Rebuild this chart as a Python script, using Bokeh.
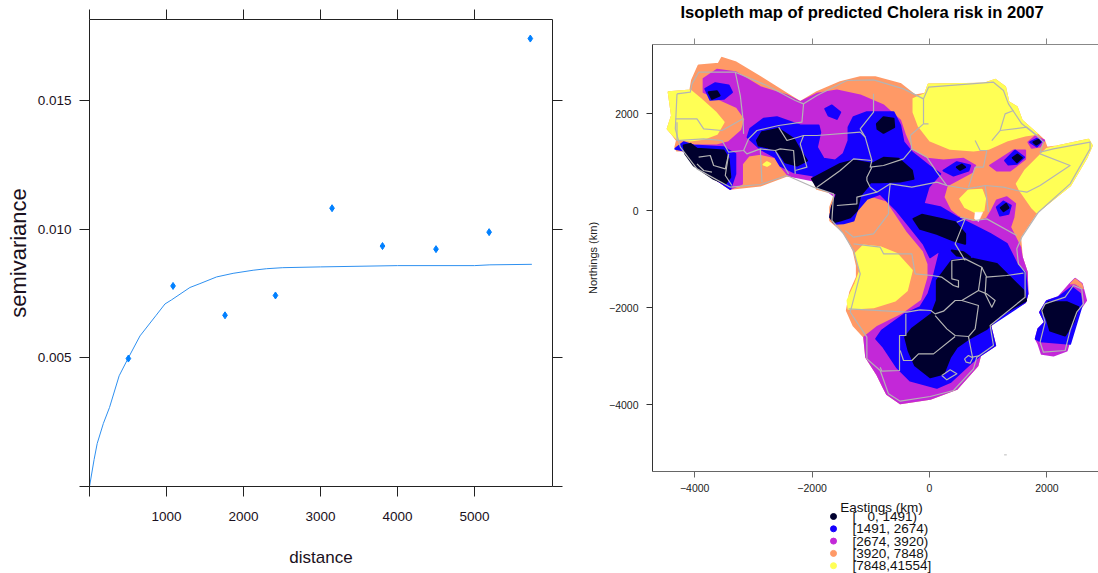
from bokeh.embed import file_html
from bokeh.resources import INLINE
from bokeh.plotting import figure
from bokeh.layouts import row, column
from bokeh.core.properties import value
from bokeh.models import Range1d, LinearAxis, FixedTicker

# ---------- variogram ----------
lag_distance = [505, 1085, 1760, 2415, 3150, 3805, 4500, 5190, 5725]
semivariance = [0.00497, 0.00779, 0.00665, 0.00742, 0.01081, 0.00934, 0.00922, 0.00988, 0.0174]
model_distance = [0, 60, 100, 180, 260, 385, 505, 656, 860, 980, 1066, 1304, 1434, 1650, 1865, 2125, 2300, 2510, 3000, 4000, 5000, 5200, 5745]
model_gamma = [0, 0.00105, 0.00167, 0.00245, 0.00307, 0.0043, 0.0050, 0.00585, 0.00663, 0.00709, 0.00725, 0.00773, 0.00788, 0.00814, 0.00828, 0.0084, 0.00846, 0.0085, 0.00853, 0.00858, 0.00858, 0.00861, 0.00863]
x_ticks = [0, 1000, 2000, 3000, 4000, 5000]
y_ticks = [0, 0.005, 0.010, 0.015]
y_tick_text = {0: "", 0.005: "0.005", 0.010: "0.010", 0.015: "0.015"}

# ---------- isopleth map: outlines digitised on a map grid ----------
E_PER_GRID, E_ORIGIN = 5.675, 868
N_PER_GRID, N_ORIGIN = 6.873, 510
def km(poly):
    return [(a - E_ORIGIN) * E_PER_GRID for a, b in poly], [(N_ORIGIN - b) * N_PER_GRID for a, b in poly]

legend_labels = ["[\u00a0\u00a0\u00a00, 1491)", "[1491, 2674)", "[2674, 3920)", "[3920, 7848)", "[7848,41554]"]
legend_colors = ["#00002E", "#1500FF", "#C328D8", "#FF9966", "#FFFF55"]

mainland = [(85,155),(150,150),(155,120),(175,75),(235,70),(245,52),(285,65),(360,110),(440,160),(480,185),(530,155),(600,125),(660,110),(705,110),(780,130),(825,165),(855,160),(865,132),(1030,130),(1065,118),(1095,140),(1105,185),(1130,200),(1145,240),(1190,280),(1212,300),(1220,322),(1250,318),(1345,298),(1355,315),(1340,350),(1290,435),(1190,515),(1160,560),(1140,590),(1145,650),(1160,695),(1162,760),(1155,785),(1080,830),(1050,855),(1065,915),(1020,945),(1012,975),(950,1045),(870,1075),(780,1088),(740,1060),(730,1040),(710,1000),(678,950),(672,890),(640,855),(620,810),(630,755),(650,710),(650,675),(640,630),(625,600),(610,575),(570,540),(570,500),(585,460),(530,445),(520,415),(440,405),(360,435),(270,445),(210,405),(160,370),(130,330),(110,330),(105,320),(110,300),(95,280),(82,265),(95,225)]
madagascar = [(1200,815),(1220,782),(1255,770),(1290,730),(1305,715),(1325,730),(1338,780),(1320,805),(1300,860),(1280,930),(1240,945),(1205,940),(1195,910),(1187,895),(1195,865),(1215,845)]

orange_madagascar = [(1290,730),(1305,715),(1325,730),(1330,745),(1305,730)]
yellow_areas = [
    [(85,155),(150,150),(180,175),(225,215),(250,245),(230,280),(190,295),(150,300),(110,295),(95,280),(82,265),(95,225)],
    [(820,175),(855,160),(865,132),(1030,130),(1065,118),(1095,140),(1105,185),(1130,200),(1145,240),(1190,280),(1155,285),(1100,300),(1045,325),(1000,330),(930,325),(870,300),(835,255),(820,215)],
    [(1220,325),(1250,318),(1345,298),(1355,315),(1340,350),(1290,435),(1190,515),(1175,500),(1140,450),(1130,430),(1155,390),(1200,345)],
    [(960,475),(985,450),(1025,448),(1035,475),(1030,510),(1005,515),(975,500)],
    [(370,372),(380,365),(390,370),(380,376)],
    [(645,640),(670,615),(720,620),(770,640),(815,690),(800,750),(765,780),(700,800),(625,805),(622,780),(645,730),(660,690)],
]
purple_areas = [
    [(190,115),(230,88),(285,95),(360,140),(440,165),(480,185),(530,160),(590,150),(660,165),(730,195),(780,240),(795,285),(815,330),(860,355),(910,360),(970,355),(1005,375),(995,395),(920,435),(910,470),(930,510),(955,530),(1000,545),(1040,535),(1055,510),(1070,480),(1100,470),(1125,490),(1120,530),(1110,560),(1125,590),(1140,620),(1145,650),(1160,695),(1162,760),(1155,785),(1080,830),(1050,855),(1065,915),(1020,945),(1012,975),(950,1045),(870,1075),(780,1088),(740,1060),(730,1040),(710,1000),(678,950),(672,890),(710,860),(790,820),(845,780),(865,710),(865,670),(850,630),(800,570),(760,510),(740,480),(700,468),(600,480),(520,420),(445,405),(420,375),(405,350),(360,340),(325,345),(305,370),(305,430),(270,445),(210,405),(160,370),(130,330),(110,322),(125,312),(160,315),(230,315),(265,305),(305,270),(315,235),(290,200),(235,175),(190,155)],
    [(1050,375),(1120,330),(1155,330),(1155,355),(1110,390),(1070,390)],
    [(1165,305),(1185,288),(1212,300),(1200,318),(1175,322)],
]
blue_areas = [
    [(322,290),(330,265),(370,235),(410,230),(480,255),(535,255),(540,275),(530,320),(550,355),(585,360),(610,340),(625,300),(625,260),(640,230),(680,215),(760,215),(780,255),(790,305),(815,335),(865,375),(900,400),(865,440),(850,490),(900,500),(950,530),(1000,555),(1050,580),(1100,610),(1130,670),(1155,695),(1162,760),(1155,785),(1050,855),(1065,915),(1020,945),(990,970),(930,1025),(890,1042),(810,1020),(770,980),(730,920),(708,895),(725,870),(795,820),(840,800),(865,760),(880,710),(900,630),(870,650),(850,610),(810,560),(770,510),(720,460),(680,475),(650,510),(640,540),(610,548),(585,550),(570,530),(575,500),(590,460),(520,420),(520,405),(460,395),(420,375),(405,350),(360,325)],
    [(105,325),(130,305),(160,315),(250,320),(265,330),(285,340),(285,400),(270,445),(210,405),(160,370),(130,330)],
    [(555,205),(575,195),(600,215),(590,235),(565,225)],
    [(195,145),(225,128),(265,135),(275,155),(250,175),(210,178)],
    [(910,390),(950,365),(990,375),(985,390),(940,405)],
    [(1095,360),(1125,330),(1152,350),(1130,370),(1105,372)],
    [(1170,305),(1190,295),(1205,302),(1190,318)],
    [(1070,500),(1090,483),(1112,495),(1105,520),(1080,525)],
    [(1200,815),(1220,782),(1255,770),(1295,740),(1320,760),(1325,795),(1290,910),(1200,902),(1187,895),(1195,865),(1215,845)],
]
dark_areas = [
    [(130,315),(150,310),(170,325),(250,330),(265,355),(270,410),(255,430),(220,415),(160,375),(135,340)],
    [(350,300),(365,275),(415,265),(460,295),(480,330),(500,360),(470,375),(435,365),(415,335),(380,320),(355,315)],
    [(515,415),(600,370),(640,360),(695,370),(730,352),(775,355),(815,390),(820,415),(780,423),(720,425),(690,425),(685,435),(660,465),(650,510),(630,530),(600,540),(580,545),(570,530),(575,500),(590,460),(530,440)],
    [(710,250),(730,230),(760,235),(762,260),(730,277),(712,265)],
    [(820,535),(845,523),(900,535),(945,545),(975,580),(975,610),(940,600),(890,580),(840,565)],
    [(935,630),(970,635),(990,650),(950,645)],
    [(890,720),(935,660),(1000,655),(1070,670),(1100,700),(1150,750),(1158,780),(1080,825),(1040,865),(985,895),(950,920),(930,950),(910,1000),(870,1010),(825,975),(805,930),(795,890),(815,865),(875,820),(890,780)],
    [(950,380),(965,372),(975,380),(960,388)],
    [(1118,352),(1132,342),(1145,352),(1130,365)],
    [(1180,305),(1195,298),(1200,305),(1188,312)],
    [(1082,502),(1098,490),(1105,502),(1090,512)],
    [(205,155),(230,152),(238,165),(215,175)],
    [(1205,810),(1225,785),(1280,785),(1315,800),(1300,845),(1275,885),(1230,870),(1220,835)],
]
lake = [(1005,515),(1028,515),(1015,543),(1003,535)]
speck = [(1092,1243),(1100,1243)]

country_lines = [
    [(110,160),(150,155),(155,130),(175,95),(285,95),(380,135),(465,180),(490,190),(530,165),(620,120),(700,118),(790,145),(850,175),(865,140),(1060,125),(1090,150),(1105,190),(1145,250),(1190,285),(1210,305),(1200,335),(1240,325),(1350,305),(1350,325),(1290,430),(1195,515),(1145,590),(1130,625),(1135,670),(1155,695),(1155,770),(1050,855),(1060,915),(1010,950),(1000,985),(940,1050),(870,1068),(780,1082),(745,1060),(720,990),(680,955),(680,890),(630,815),(660,700),(640,630),(610,580),(575,540),(580,460),(520,440),(440,405),(360,432),(270,440),(170,385),(120,320),(105,265),(110,160)],
    [(285,95),(300,165),(308,235),(310,280)],
    [(105,235),(170,235),(190,265),(245,270),(308,235)],
    [(108,300),(190,295),(245,300),(265,335),(310,330),(325,295),(350,270),(415,255),(485,245),(490,190)],
    [(310,330),(320,340),(360,325),(405,330),(420,325),(460,330),(465,400)],
    [(360,325),(365,425)],
    [(405,330),(445,400)],
    [(415,260),(440,300),(490,285),(530,285),(660,275)],
    [(490,285),(480,310),(500,380),(465,390)],
    [(700,160),(700,215),(660,265),(675,290),(695,360),(690,380),(730,375),(790,355),(815,325)],
    [(660,275),(675,290)],
    [(815,325),(810,285),(850,250),(850,175)],
    [(850,250),(865,250)],
    [(815,325),(860,350),(890,395),(920,435),(980,445),(1035,435),(1090,440),(1130,450),(1160,455),(1200,435),(1290,375),(1200,340)],
    [(1005,300),(1020,330),(1040,330),(1030,380),(1005,380),(985,440)],
    [(1055,300),(1080,270),(1160,260),(1190,285)],
    [(1080,270),(1095,220),(1120,210)],
    [(1035,435),(1045,515)],
    [(960,530),(1005,540),(1040,535),(1130,585)],
    [(530,440),(600,390),(640,355),(695,360)],
    [(695,380),(680,410),(680,420),(690,440),(710,455),(750,430),(815,440),(890,425),(920,435)],
    [(750,430),(745,475),(745,520),(700,580),(640,590),(615,570)],
    [(590,495),(650,490),(650,470),(710,455)],
    [(950,545),(975,535),(945,610),(975,660)],
    [(640,610),(720,620),(730,640),(815,640),(825,700),(875,705),(905,710),(940,735),(955,740),(955,720),(935,715),(935,660),(975,655),(1025,680),(1015,750),(965,780)],
    [(1015,750),(1040,760),(1065,780),(1055,800),(1035,760),(1038,710),(1100,705),(1150,698)],
    [(1025,680),(1040,710)],
    [(625,805),(800,815),(840,808),(872,810),(885,820),(910,812),(945,780),(965,780),(1015,795),(1005,865),(985,888),(945,885),(920,865),(885,825)],
    [(797,820),(797,885),(778,885),(778,990),(725,992),(720,980)],
    [(780,930),(790,960),(815,960),(835,940),(880,940),(945,888)],
    [(985,888),(997,950),(1020,945)],
    [(973,955),(985,945),(998,952),(990,968),(978,965),(973,955)],
    [(905,1005),(930,988),(950,1000),(920,1018),(905,1005)],
    [(175,350),(210,345),(220,375),(255,385),(265,340)],
    [(170,370),(190,390),(215,395)],
    [(265,340),(255,405),(275,435)],
    [(110,245),(110,300)],
    [(1215,790),(1275,770),(1300,735),(1325,745),(1330,790),(1310,815),(1290,870),(1275,930),(1210,935),(1200,905),(1215,845),(1205,810),(1215,790)],
]
map_x_ticks = [-4000, -2000, 0, 2000]
map_y_ticks = [-4000, -2000, 0, 2000]

# ---------- left panel ----------
SANS = "Liberation Sans"
p1 = figure(width=570, height=573, output_backend="svg", toolbar_location=None,
            x_range=Range1d(0, 6013), y_range=Range1d(0, 0.01814),
            x_axis_type=None, y_axis_type=None, frame_align=False,
            min_border_left=89, min_border_right=18, min_border_top=19, min_border_bottom=87)
p1.grid.visible = False
p1.outline_line_color = None
p1.line(model_distance, model_gamma, line_color="#2E90F0", line_width=1)
p1.scatter(lag_distance, semivariance, marker="diamond", size=7, color="#0080FF")

def lattice_axis(side, ticks, labels):
    a = LinearAxis(ticker=FixedTicker(ticks=ticks))
    a.major_tick_out = 10; a.major_tick_in = 0; a.minor_tick_out = 0; a.minor_tick_in = 0
    a.axis_line_color = "#222222"; a.major_tick_line_color = "#222222"
    a.major_label_text_font = SANS
    a.major_label_text_font_size = "13.5px"
    a.major_label_text_color = "#1a1020"
    if not labels:
        a.major_label_text_font_size = "1px"; a.major_label_standoff = 0
        a.major_label_overrides = {t: "" for t in ticks}
    p1.add_layout(a, side)
    return a

b = lattice_axis("below", x_ticks, True)
b.major_label_overrides = {0: ""}
b.major_label_standoff = 15
b.axis_label = "distance"; b.axis_label_text_font = SANS; b.axis_label_text_font_style = "normal"
b.axis_label_text_font_size = "17px"; b.axis_label_standoff = 24; b.axis_label_text_color = "#1a1020"
l = lattice_axis("left", y_ticks, True)
l.major_label_overrides = y_tick_text
l.major_label_standoff = 8
l.axis_label = "semivariance"; l.axis_label_text_font = SANS; l.axis_label_text_font_style = "normal"
l.axis_label_text_font_size = "22px"; l.axis_label_standoff = 4; l.axis_label_text_color = "#1a1020"
lattice_axis("above", x_ticks, False)
lattice_axis("right", y_ticks, False)

# ---------- title strip above the map ----------
p0 = figure(width=528, height=26, output_backend="svg", toolbar_location=None,
            x_range=Range1d(0, 528), y_range=Range1d(0, 26),
            x_axis_type=None, y_axis_type=None, frame_align=False,
            min_border_left=0, min_border_right=0, min_border_top=0, min_border_bottom=0)
p0.grid.visible = False
p0.outline_line_color = None
p0.text([110], [14], text=["Isopleth map of predicted Cholera risk in 2007"], text_font=value(SANS),
        text_font_style="bold", text_font_size="16.6px", text_align="left", text_baseline="middle",
        text_color="#000000")

# ---------- right panel ----------
p2 = figure(width=528, height=474, output_backend="svg", toolbar_location=None,
            x_range=Range1d(-4719, 2879), y_range=Range1d(-5381, 3423),
            x_axis_type=None, y_axis_type=None, frame_align=False,
            min_border_left=82, min_border_right=0, min_border_top=18, min_border_bottom=29)
p2.grid.visible = False
p2.outline_line_color = None

def fill(polys, color, w=2):
    xs, ys = zip(*[km(q) for q in polys])
    p2.patches(list(xs), list(ys), fill_color=color, line_color=color, line_width=w, line_join="round")

fill([mainland], legend_colors[3])
fill([madagascar], legend_colors[2])
fill([orange_madagascar], legend_colors[3], 1)
fill(yellow_areas, legend_colors[4])
fill(purple_areas, legend_colors[2])
fill(blue_areas, legend_colors[1])
fill(dark_areas, legend_colors[0])
fill([lake], "#FFFFFF", 0.5)
xs, ys = zip(*[km(q) for q in country_lines])
p2.multi_line(list(xs), list(ys), line_color="#B4B4B4", line_width=1.2, line_join="round")
sx, sy = km(speck)
p2.line(sx, sy, line_color="#BBBBBB", line_width=1)

def map_axis(side, ticks, labels, color):
    a = LinearAxis(ticker=FixedTicker(ticks=ticks))
    a.major_tick_out = 6; a.major_tick_in = 0; a.minor_tick_out = 0; a.minor_tick_in = 0
    a.axis_line_color = color; a.major_tick_line_color = color
    a.major_label_text_font = SANS; a.major_label_text_font_size = "10.5px"
    a.major_label_text_color = "#222222"
    if not labels:
        a.major_label_text_font_size = "1px"; a.major_label_standoff = 0
        a.major_label_overrides = {t: "" for t in ticks}
    p2.add_layout(a, side)
    return a

b2 = map_axis("below", map_x_ticks, True, "#666666")
b2.major_label_standoff = 6
l2 = map_axis("left", map_y_ticks, True, "#333333")
l2.major_label_standoff = 8
l2.axis_label = "Northings (km)"; l2.axis_label_text_font = SANS
l2.axis_label_text_font_style = "normal"; l2.axis_label_text_font_size = "11px"
l2.axis_label_standoff = 7; l2.axis_label_text_color = "#222222"
map_axis("above", map_x_ticks, False, "#888888")

# ---------- legend strip under the map ----------
p3 = figure(width=528, height=73, output_backend="svg", toolbar_location=None,
            x_range=Range1d(0, 528), y_range=Range1d(0, 73),
            x_axis_type=None, y_axis_type=None, frame_align=False,
            min_border_left=0, min_border_right=0, min_border_top=0, min_border_bottom=0)
p3.grid.visible = False
p3.outline_line_color = None
p3.text([311], [66], text=["Eastings (km)"], text_font=value(SANS), text_font_size="13.5px",
        text_align="center", text_baseline="middle", text_color="#111111")
rows = [57 - 12.3 * i for i in range(5)]
p3.scatter([263] * 5, rows, marker="circle", size=6, color=legend_colors)
p3.text([282] * 5, rows, text=legend_labels, text_font=value(SANS), text_font_size="13.5px",
        text_align="left", text_baseline="middle", text_color="#111111")

page = row(p1, column(p0, p2, p3, spacing=0), spacing=0)
open("out.html", "w").write(file_html(page, INLINE))
